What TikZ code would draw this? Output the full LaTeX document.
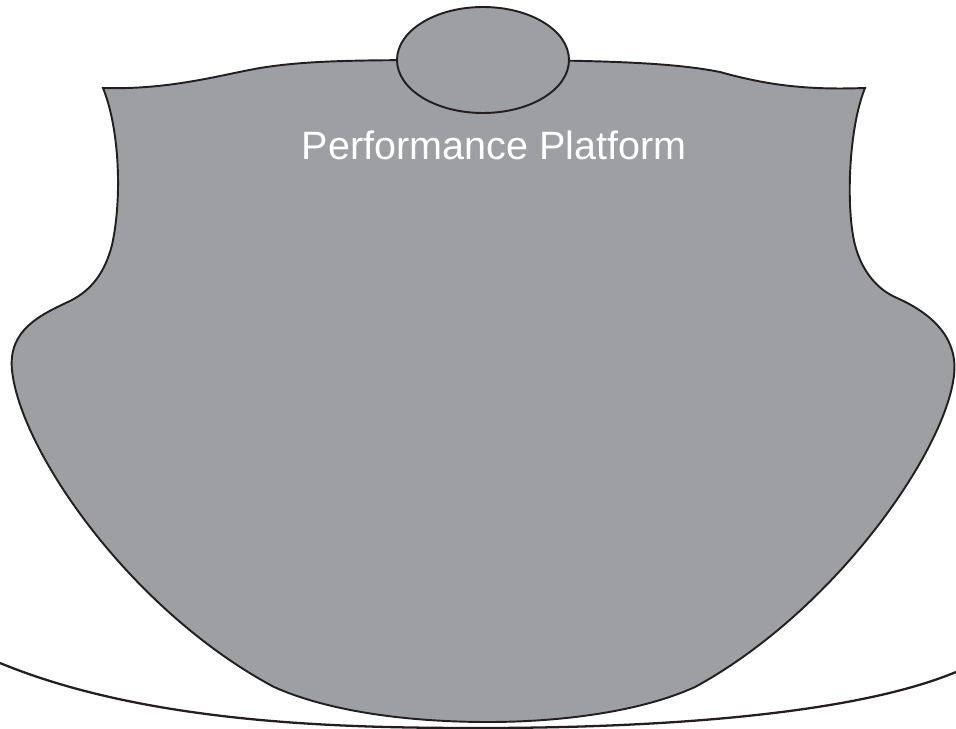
\documentclass[tikz,border=0pt]{standalone}
\usepackage{fontspec}
\setmainfont{Liberation Sans}
\definecolor{platgray}{RGB}{158,159,163}
\definecolor{inkline}{RGB}{35,31,32}

\begin{document}
\begin{tikzpicture}[x=0.02cm,y=-0.02cm,
  body/.style={fill=platgray,draw=inkline,line width=1.1pt},
  label/.style={text=white,font=\fontsize{22.5}{27}\selectfont}]

\useasboundingbox (0,0) rectangle (956,729) ;

\draw [body] (103,88) .. controls (170,90) and (220,75) .. (260,68)
  .. controls (310,60) and (360,60) .. (483,60)
  .. controls (620,60) and (680,64) .. (720,72)
  .. controls (770,86) and (810,90) .. (865,88)
  .. controls (848,130) and (846,210) .. (855,245)
  .. controls (862,272) and (878,290) .. (897,298)
  .. controls (935,315) and (958,340) .. (954,375)
  .. controls (946,450) and (836,610) .. (695,687)
  .. controls (640,712) and (560,722) .. (488,722)
  .. controls (410,722) and (330,712) .. (274,687)
  .. controls (130,610) and (20,450) .. (12,370)
  .. controls (8,330) and (40,315) .. (70,301)
  .. controls (92,290) and (105,272) .. (112,245)
  .. controls (122,200) and (120,130) .. (103,88) -- cycle ;

\draw [body] (483,60) ellipse [x radius=86,y radius=53] ;

\node [label] (title) at (494,145) {Performance Platform} ;

\draw [inkline,line width=1.3pt] (0,663) .. controls (150,725) and (350,728) .. (480,728)
  .. controls (650,728) and (850,716) .. (956,672) ;

\end{tikzpicture}
\end{document}
